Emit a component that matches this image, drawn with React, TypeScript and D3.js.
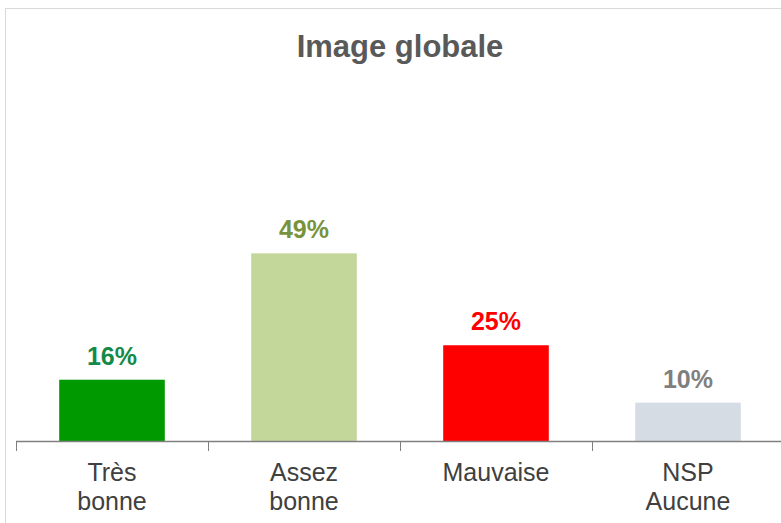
import React from "react";
import * as d3 from "d3";

const categories: string[][] = [["Très", "bonne"], ["Assez", "bonne"], ["Mauvaise"], ["NSP", "Aucune"]];
const values: number[] = [16, 49, 25, 10];
const barColors: string[] = ["#009900", "#c4d79b", "#ff0000", "#d5dce4"];
const labelColors: string[] = ["#138a48", "#77933c", "#ff0000", "#7f7f7f"];
const title = "Image globale";

export default function App() {
  const W = 781, H = 523;
  const x0 = 16, x1 = 784, baseY = 441;
  const keys = categories.map((c) => c.join(" "));
  const x = d3.scaleBand<string>().domain(keys).range([x0, x1]).paddingInner(0.45).paddingOuter(0.225);
  const y = d3.scaleLinear().domain([0, 100]).range([baseY, baseY - 383]);
  const ticks = d3.range(keys.length + 1).map((i) => x0 + (i * (x1 - x0)) / keys.length);
  const font = "Liberation Sans, Arial, sans-serif";
  return (
    <div style={{ position: "absolute", left: 0, top: 0 }}>
      <svg width={W} height={H} style={{ display: "block", background: "#fff" }}>
        <rect x={5.5} y={8.5} width={W + 10} height={H + 10} fill="#fff" stroke="#d9d9d9" strokeWidth={1} />
        <text x={400} y={57} textAnchor="middle" fontFamily={font} fontWeight="bold" fontSize={31} fill="#595959">
          {title}
        </text>
        {keys.map((k, i) => (
          <g key={k}>
            <rect x={x(k)} y={y(values[i])} width={x.bandwidth()} height={baseY - y(values[i])} fill={barColors[i]} />
            <text
              x={(x(k) as number) + x.bandwidth() / 2}
              y={y(values[i]) - 15}
              textAnchor="middle"
              fontFamily={font}
              fontWeight="bold"
              fontSize={25}
              fill={labelColors[i]}
            >
              {values[i]}%
            </text>
            {categories[i].map((line, j) => (
              <text
                key={j}
                x={(x(k) as number) + x.bandwidth() / 2}
                y={481 + j * 29}
                textAnchor="middle"
                fontFamily={font}
                fontSize={25}
                fill="#404040"
              >
                {line}
              </text>
            ))}
          </g>
        ))}
        <line x1={x0} x2={x1} y1={baseY + 0.5} y2={baseY + 0.5} stroke="#808080" strokeWidth={1.3} />
        {ticks.map((t, i) => (
          <line key={i} x1={t + 0.5} x2={t + 0.5} y1={baseY} y2={baseY + 10} stroke="#808080" strokeWidth={1} />
        ))}
      </svg>
    </div>
  );
}
